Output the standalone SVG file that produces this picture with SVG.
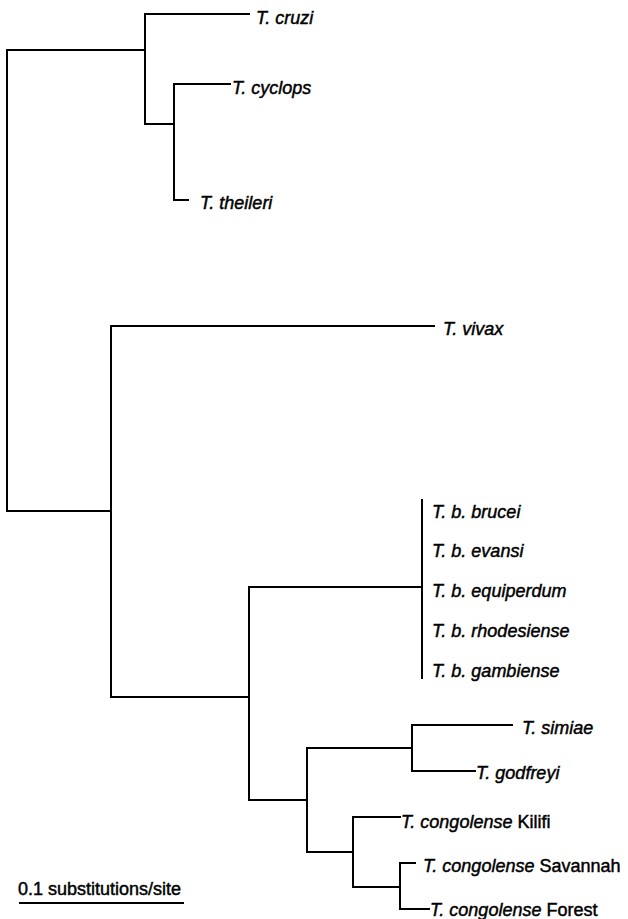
<svg xmlns="http://www.w3.org/2000/svg" width="628" height="919" viewBox="0 0 628 919">
<style>
.br{fill:none;stroke:#000;stroke-width:2;stroke-linecap:square;stroke-linejoin:miter}
text{font-family:"Liberation Sans",Arial,sans-serif;font-size:18px;fill:#000;stroke:#000;stroke-width:0.45px}
.i{font-style:italic}
</style>
<rect width="628" height="919" fill="#fff"/>
<g id="connectors" class="br">
<path d="M7,50 V511"/>
<path d="M7,50 H145"/>
<path d="M145,14 V124"/>
<path d="M145,14 H249"/>
<path d="M145,124 H174"/>
<path d="M174,84 V200"/>
<path d="M174,84 H230"/>
<path d="M174,200 H188"/>
<path d="M7,511 H111"/>
<path d="M111,326 V697"/>
<path d="M111,326 H434"/>
<path d="M111,697 H249"/>
<path d="M249,587 V800"/>
<path d="M249,587 H422"/>
<path d="M422,500 V678"/>
<path d="M249,800 H307"/>
<path d="M307,748 V852"/>
<path d="M307,748 H412"/>
<path d="M412,725 V771"/>
<path d="M412,725 H512"/>
<path d="M412,771 H475"/>
<path d="M307,852 H353"/>
<path d="M353,817 V887"/>
<path d="M353,817 H400"/>
<path d="M353,887 H400"/>
<path d="M400,863 V909"/>
<path d="M400,863 H415"/>
<path d="M400,909 H429"/>
</g>
<g id="t_cruzi"><text class="i" x="256" y="24">T. cruzi</text></g>
<g id="t_cyclops"><text class="i" x="232" y="94">T. cyclops</text></g>
<g id="t_theileri"><text class="i" x="200" y="209">T. theileri</text></g>
<g id="t_vivax"><text class="i" x="443" y="335">T. vivax</text></g>
<g id="tb_brucei"><text class="i" x="432" y="518">T. b. brucei</text></g>
<g id="tb_evansi"><text class="i" x="432" y="557">T. b. evansi</text></g>
<g id="tb_equiperdum"><text class="i" x="432" y="597">T. b. equiperdum</text></g>
<g id="tb_rhodesiense"><text class="i" x="432" y="637">T. b. rhodesiense</text></g>
<g id="tb_gambiense"><text class="i" x="432" y="677">T. b. gambiense</text></g>
<g id="t_simiae"><text class="i" x="522" y="734">T. simiae</text></g>
<g id="t_godfreyi"><text class="i" x="476" y="779">T. godfreyi</text></g>
<g id="tc_kilifi"><text x="401" y="828"><tspan class="i">T. congolense</tspan> Kilifi</text></g>
<g id="tc_savannah"><text x="423" y="872"><tspan class="i">T. congolense</tspan> Savannah</text></g>
<g id="tc_forest"><text x="430" y="916"><tspan class="i">T. congolense</tspan> Forest</text></g>
<g id="scale_bar">
<text x="18" y="895">0.1 substitutions/site</text>
<path class="br" d="M20,903 H183"/>
</g>
</svg>
